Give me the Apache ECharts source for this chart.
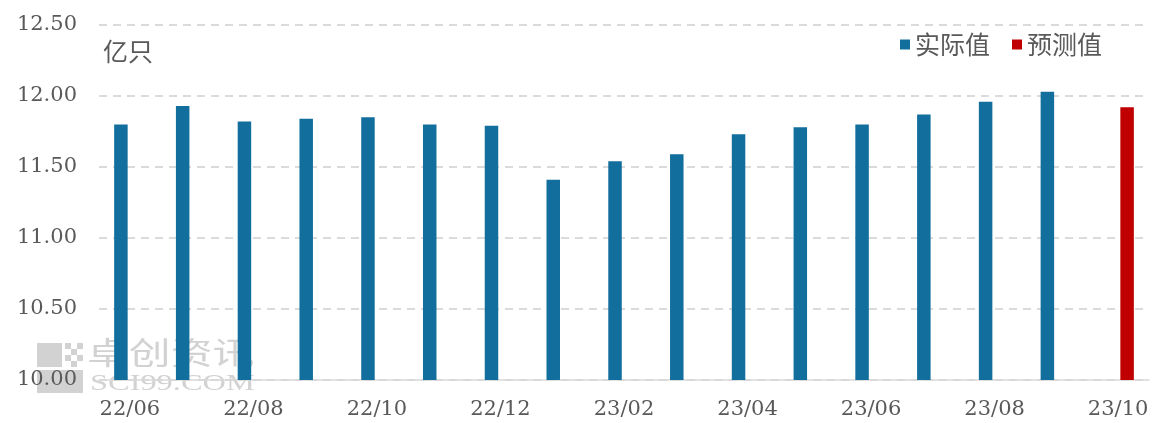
<!DOCTYPE html>
<html>
<head>
	<meta charset="utf-8">
	<title>产量</title>
	<script src="https://cdn.jsdelivr.net/npm/echarts@6/dist/echarts.min.js"></script>
	<style>
		html, body { margin: 0; padding: 0; background: #fff; }
	</style>
</head>
<body>
	<div id="container" style="width: 1153px;height:423px;"></div>
	<script type="text/javascript">

	var months = ['22/06', '22/07', '22/08', '22/09', '22/10', '22/11', '22/12', '23/01', '23/02',
		'23/03', '23/04', '23/05', '23/06', '23/07', '23/08', '23/09', '23/10'];
	var actual = [11.80, 11.93, 11.82, 11.84, 11.85, 11.80, 11.79, 11.41, 11.54,
		11.59, 11.73, 11.78, 11.80, 11.87, 11.96, 12.03, null];
	var forecast = [null, null, null, null, null, null, null, null, null,
		null, null, null, null, null, null, null, 11.92];

	var grey = '#595959';
	var serif = 'DejaVu Serif';
	var cjk = 'Noto Sans CJK SC';
	var wm = '#d2d2d2';

	var myChart = echarts.init(document.getElementById('container'));
	myChart.setOption({
		animation: false,
		title: {
			text: '亿只',
			left: 98,
			top: 34,
			textStyle: { fontFamily: cjk, fontSize: 25, fontWeight: 'normal', color: grey }
		},
		legend: {
			right: 46,
			top: 27,
			icon: 'rect',
			itemWidth: 10,
			itemHeight: 10,
			itemGap: 22,
			textStyle: { fontFamily: cjk, fontSize: 25, color: grey },
			data: ['实际值', '预测值']
		},
		grid: { left: 99, right: 4, top: 25, bottom: 43 },
		xAxis: {
			type: 'category',
			data: months,
			z: 3,
			axisTick: { show: false },
			axisLine: { lineStyle: { color: '#d9d9d9', width: 1.5 } },
			axisLabel: {
				interval: 1,
				margin: 19,
				fontFamily: serif,
				fontSize: 21,
				color: grey
			}
		},
		yAxis: {
			type: 'value',
			min: 10,
			max: 12.5,
			interval: 0.5,
			z: 3,
			axisLine: { show: false },
			axisTick: { show: false },
			splitLine: { lineStyle: { color: '#d0d0d0', type: [8, 6], width: 1.5 } },
			axisLabel: {
				margin: 22,
				fontFamily: serif,
				fontSize: 21,
				color: grey,
				formatter: function (v) { return v.toFixed(2); }
			}
		},
		series: [
			{
				name: '实际值',
				type: 'bar',
				data: actual,
				barWidth: 13.5,
				barGap: '33%',
				z: 5,
				itemStyle: { color: '#126e9c' }
			},
			{
				name: '预测值',
				type: 'bar',
				data: forecast,
				barWidth: 13.5,
				z: 5,
				itemStyle: { color: '#c00000' }
			}
		],
		graphic: [
			// watermark, behind the bars and axis labels
			{ type: 'rect', left: 37, top: 343, z: 1, shape: { width: 25, height: 24 }, style: { fill: wm } },
			{ type: 'rect', left: 37, top: 370, z: 1, shape: { width: 46, height: 23 }, style: { fill: wm } },
			{ type: 'rect', left: 65, top: 343, z: 1, shape: { width: 6, height: 6 }, style: { fill: wm } },
			{ type: 'rect', left: 77, top: 343, z: 1, shape: { width: 6, height: 6 }, style: { fill: wm } },
			{ type: 'rect', left: 71, top: 349, z: 1, shape: { width: 6, height: 6 }, style: { fill: wm } },
			{ type: 'rect', left: 65, top: 355, z: 1, shape: { width: 6, height: 6 }, style: { fill: wm } },
			{ type: 'rect', left: 77, top: 355, z: 1, shape: { width: 6, height: 6 }, style: { fill: wm } },
			{ type: 'rect', left: 71, top: 361, z: 1, shape: { width: 6, height: 6 }, style: { fill: wm } },
			{ type: 'text', x: 87, y: 337, z: 1, scaleX: 1.35, style: { text: '卓创资讯', font: '31px "Noto Sans CJK SC"', fill: wm } },
			{ type: 'text', x: 90, y: 372, z: 1, scaleX: 1.35, style: { text: 'SCI99.COM', font: '24px "Liberation Serif"', fill: wm } }
		]
	});

	</script>
</body>
</html>
